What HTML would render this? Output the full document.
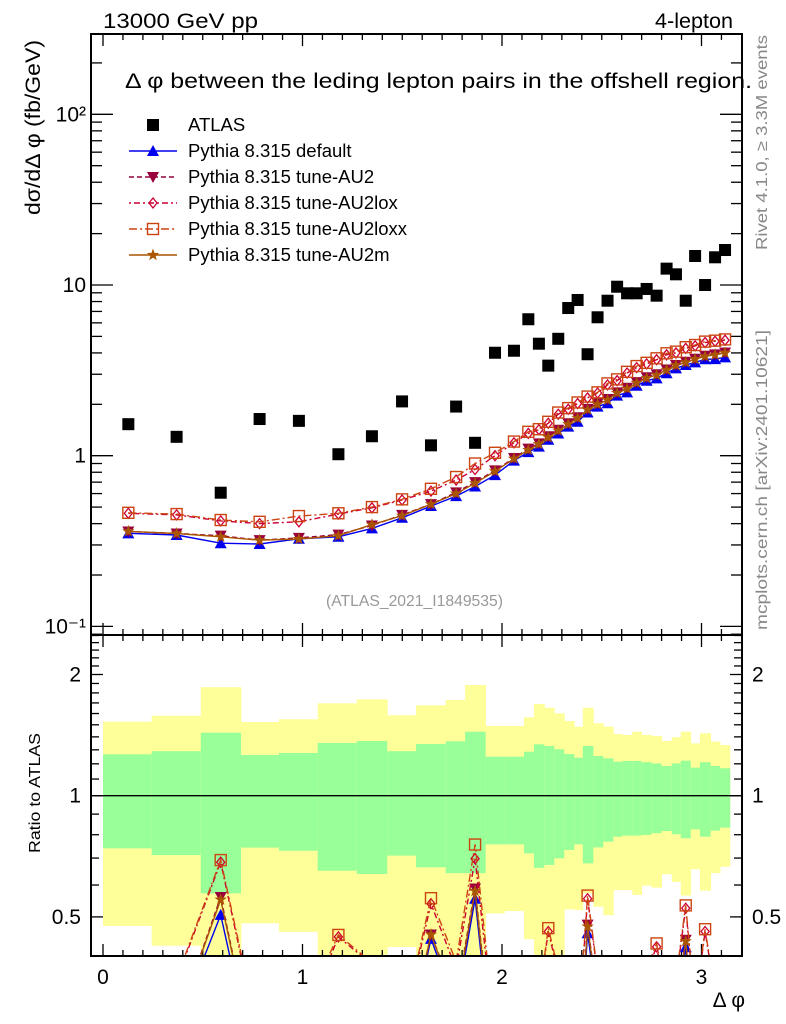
<!DOCTYPE html>
<html><head><meta charset="utf-8"><style>
html,body{margin:0;padding:0;background:#fff;overflow:hidden;width:786px;height:1024px;}
svg{display:block;font-family:"Liberation Sans",sans-serif;overflow:hidden;position:absolute;left:0;top:0;}
</style></head><body>
<svg id="chart" width="786" height="1024" viewBox="0 0 786 1024" xmlns="http://www.w3.org/2000/svg">
<defs>
<clipPath id="clipMain"><rect x="91" y="34" width="651" height="601"/></clipPath>
<clipPath id="clipRatio"><rect x="91" y="635" width="651" height="321"/></clipPath>
</defs>
<g id="bands" clip-path="url(#clipRatio)"></g>
<g id="ticks"></g>
<g id="series"></g>
<rect x="91" y="34" width="651" height="601" fill="none" stroke="#000" stroke-width="2"/>
<rect x="91" y="635" width="651" height="321" fill="none" stroke="#000" stroke-width="2"/>
<text x="103" y="28" font-size="21" textLength="155" lengthAdjust="spacingAndGlyphs">13000 GeV pp</text>
<text x="655" y="28" font-size="21" textLength="78" lengthAdjust="spacingAndGlyphs">4-lepton</text>
<text x="125" y="88" font-size="21" textLength="627" lengthAdjust="spacingAndGlyphs">Δ φ between the leding lepton pairs in the offshell region.</text>
<text transform="translate(40,215) rotate(-90)" font-size="21" textLength="175" lengthAdjust="spacingAndGlyphs">dσ/dΔ φ (fb/GeV)</text>
<text transform="translate(40,853) rotate(-90)" font-size="16" textLength="120" lengthAdjust="spacingAndGlyphs">Ratio to ATLAS</text>
<text x="745" y="1007" font-size="21" text-anchor="end">Δ φ</text>
<text transform="translate(767,250) rotate(-90)" font-size="16" fill="#888" textLength="215" lengthAdjust="spacingAndGlyphs">Rivet 4.1.0, ≥ 3.3M events</text>
<text transform="translate(767,630) rotate(-90)" font-size="16" fill="#888" textLength="300" lengthAdjust="spacingAndGlyphs">mcplots.cern.ch [arXiv:2401.10621]</text>
<text x="326" y="606" font-size="16" fill="#999" textLength="177" lengthAdjust="spacingAndGlyphs">(ATLAS_2021_I1849535)</text>
<g id="legend"></g>
</svg>
<script>
const edges=[0,0.244,0.490,0.692,0.882,1.076,1.272,1.425,1.569,1.718,1.815,1.918,2.012,2.110,2.160,2.212,2.262,2.312,2.362,2.405,2.458,2.508,2.558,2.603,2.653,2.700,2.750,2.800,2.851,2.896,2.946,2.992,3.046,3.093,3.142];
const centers=[0.127,0.369,0.59,0.785,0.982,1.18,1.348,1.499,1.644,1.77,1.865,1.965,2.06,2.132,2.185,2.232,2.282,2.332,2.379,2.429,2.479,2.529,2.577,2.627,2.675,2.725,2.775,2.825,2.872,2.921,2.968,3.018,3.068,3.118];
const atlas=[1.53,1.29,0.607,1.64,1.60,1.02,1.30,2.08,1.15,1.94,1.19,4.01,4.12,6.30,4.53,3.37,4.84,7.33,8.17,3.93,6.47,8.09,9.77,8.94,8.94,9.48,8.66,12.47,11.55,8.09,14.79,10.0,14.53,16.03];
const pDefault=[0.351,0.343,0.307,0.304,0.326,0.335,0.375,0.433,0.507,0.58,0.66,0.77,0.935,1.05,1.13,1.24,1.35,1.48,1.58,1.79,1.94,2.03,2.25,2.35,2.57,2.75,2.84,3.04,3.25,3.40,3.52,3.67,3.68,3.77];
const pAU2=[0.36,0.35,0.34,0.32,0.33,0.345,0.39,0.45,0.52,0.61,0.70,0.82,0.97,1.10,1.18,1.30,1.42,1.55,1.68,1.88,2.03,2.15,2.35,2.50,2.70,2.88,3.00,3.20,3.40,3.55,3.70,3.85,3.92,4.02];
const pAU2lox=[0.46,0.45,0.415,0.40,0.41,0.455,0.495,0.55,0.62,0.72,0.83,1.0,1.19,1.35,1.42,1.55,1.75,1.87,2.02,2.18,2.33,2.6,2.75,3.05,3.28,3.45,3.65,3.9,4.0,4.25,4.4,4.6,4.68,4.75];
const pAU2loxx=[0.463,0.455,0.42,0.41,0.443,0.46,0.50,0.555,0.64,0.75,0.90,1.04,1.21,1.38,1.43,1.58,1.79,1.90,2.05,2.22,2.35,2.65,2.80,3.10,3.35,3.50,3.72,3.98,4.07,4.32,4.45,4.66,4.72,4.80];
const pAU2m=[0.36,0.35,0.335,0.32,0.325,0.34,0.395,0.445,0.52,0.60,0.69,0.81,0.96,1.08,1.17,1.28,1.40,1.53,1.66,1.86,2.00,2.12,2.33,2.47,2.67,2.85,2.97,3.18,3.38,3.52,3.68,3.82,3.90,4.00];
const yelHi=[1.527,1.58,1.86,1.524,1.548,1.696,1.735,1.584,1.677,1.729,1.883,1.49,1.49,1.566,1.69,1.654,1.602,1.533,1.484,1.654,1.513,1.484,1.423,1.415,1.442,1.415,1.407,1.367,1.397,1.442,1.349,1.429,1.363,1.336];
const grnHi=[1.267,1.29,1.434,1.262,1.277,1.352,1.367,1.29,1.344,1.365,1.442,1.25,1.25,1.286,1.342,1.329,1.304,1.269,1.243,1.329,1.255,1.238,1.215,1.22,1.22,1.211,1.203,1.185,1.203,1.222,1.174,1.211,1.185,1.17];
const grnLo=[0.74,0.712,0.572,0.743,0.73,0.651,0.639,0.71,0.664,0.642,0.642,0.757,0.757,0.719,0.662,0.673,0.699,0.733,0.757,0.679,0.744,0.769,0.791,0.796,0.796,0.799,0.807,0.817,0.802,0.784,0.825,0.791,0.819,0.833];
const yelLo=[0.475,0.424,0.35,0.482,0.459,0.35,0.35,0.421,0.35,0.35,0.35,0.51,0.517,0.44,0.35,0.35,0.35,0.522,0.52,0.572,0.53,0.505,0.583,0.583,0.567,0.598,0.591,0.638,0.611,0.565,0.657,0.581,0.642,0.666];
const xTicks=[0,1,2,3];
const yMainTicks=[0.1,1,10,100];
const yMainLabels=["10⁻¹","1","10","10²"];
const yRatioTicks=[0.5,1,2];
const yRatioLabels=["0.5","1","2"];

const NS="http://www.w3.org/2000/svg";
const X=v=>103+v*199.5;
const Ym=v=>455.7-Math.log10(v)*170.7;
const Yr=v=>795.7-Math.log2(v)*121.2;
function mk(tag,attrs,parent){const e=document.createElementNS(NS,tag);for(const k in attrs)e.setAttribute(k,attrs[k]);parent.appendChild(e);return e;}

const bands=document.getElementById('bands');
edges.slice(0,-1).forEach((e,i)=>{
  const x0=X(e),x1=X(edges[i+1]);
  const y=mk('rect',{x:x0,y:Yr(yelHi[i]),width:x1-x0+0.4,height:Yr(yelLo[i])-Yr(yelHi[i]),fill:'#ffff99'},bands);
  
  
  const g=mk('rect',{x:x0,y:Yr(grnHi[i]),width:x1-x0+0.4,height:Yr(grnLo[i])-Yr(grnHi[i]),fill:'#99ff99'},bands);
  
  
});
const one=mk('line',{x1:91,x2:742,y1:Yr(1),y2:Yr(1),stroke:'#000','stroke-width':1.3},bands);



const tg=document.getElementById('ticks');
function tick(x1,y1,x2,y2){mk('line',{x1,y1,x2,y2,stroke:'#000','stroke-width':1.3},tg);}
for(let k=0;k<=31;k++){const v=k/10;const x=X(v);const maj=(k%10===0);const L=maj?12:6;
  tick(x,34,x,34+L);tick(x,635,x,635-L);tick(x,635,x,635+L);tick(x,956,x,956-L);}
xTicks.forEach(v=>{const t=mk('text',{x:X(v),y:984,'font-size':21,'text-anchor':'middle'},tg);t.textContent=v;
  
  });
for(let d=-2;d<=2;d++){for(let m=1;m<=9;m++){const v=m*Math.pow(10,d);const y=Ym(v);if(y<34||y>635)continue;const L=m===1?22:11;
  tick(91,y,91+L,y);tick(742,y,742-L,y);}}
yMainTicks.forEach((v,i)=>{const t=mk('text',{x:86,y:Ym(v)+7,'font-size':21,'text-anchor':'end'},tg);t.textContent=yMainLabels[i];
  
  });
const rt=[0.4,0.5,0.6,0.7,0.8,0.9,1,1.1,1.2,1.3,1.4,1.5,1.6,1.7,1.8,1.9,2,2.1,2.2,2.3,2.4,2.5];
rt.forEach(v=>{const y=Yr(v);if(y<635||y>956)return;const maj=(v===0.5||v===1||v===2);const L=maj?12:8;tick(91,y,91+L,y);tick(742,y,742-L,y);});
yRatioTicks.forEach((v,i)=>{
  const a=mk('text',{x:81,y:Yr(v)+7,'font-size':21,'text-anchor':'end'},tg);a.textContent=yRatioLabels[i];
  
  
  const b=mk('text',{x:752,y:Yr(v)+7,'font-size':21},tg);b.textContent=yRatioLabels[i];
  
  });

function marker(type,x,y,col,parent){
  if(type==='sq') return mk('rect',{x:x-6,y:y-6,width:12,height:12,fill:'#000'},parent);
  if(type==='tu') return mk('polygon',{points:`${x},${y-6} ${x-6},${y+5} ${x+6},${y+5}`,fill:col},parent);
  if(type==='td') return mk('polygon',{points:`${x},${y+6} ${x-6},${y-5} ${x+6},${y-5}`,fill:col},parent);
  if(type==='di') return mk('polygon',{points:`${x},${y-5} ${x+4},${y} ${x},${y+5} ${x-4},${y}`,fill:'none',stroke:col,'stroke-width':1.3},parent);
  if(type==='os') return mk('rect',{x:x-5.5,y:y-5.5,width:11,height:11,fill:'none',stroke:col,'stroke-width':1.4},parent);
  if(type==='st'){let p=[];for(let k=0;k<10;k++){const r=k%2?2.6:6.5;const a=-Math.PI/2+k*Math.PI/5;p.push((x+r*Math.cos(a)).toFixed(1)+','+(y+r*Math.sin(a)).toFixed(1));}
    return mk('polygon',{points:p.join(' '),fill:col},parent);}
}
const sg=document.getElementById('series');
const mainG=mk('g',{'clip-path':'url(#clipMain)'},sg);
const ratG=mk('g',{'clip-path':'url(#clipRatio)'},sg);
const mc=[
 {name:'default',data:pDefault,col:'#0000ee',dash:'',m:'tu',label:'Pythia 8.315 default'},
 {name:'au2',data:pAU2,col:'#99003d',dash:'5,3',m:'td',label:'Pythia 8.315 tune-AU2'},
 {name:'au2lox',data:pAU2lox,col:'#cc0033',dash:'2,3,6,3',m:'di',label:'Pythia 8.315 tune-AU2lox'},
 {name:'au2loxx',data:pAU2loxx,col:'#cc4411',dash:'8,3,2,3',m:'os',label:'Pythia 8.315 tune-AU2loxx'},
 {name:'au2m',data:pAU2m,col:'#aa5500',dash:'',m:'st',label:'Pythia 8.315 tune-AU2m'}];
mc.forEach(s=>{
  const pts=s.data.map((v,i)=>X(centers[i]).toFixed(1)+','+Ym(v).toFixed(1)).join(' ');
  const l=mk('polyline',{points:pts,fill:'none',stroke:s.col,'stroke-width':1.4,'stroke-dasharray':s.dash},mainG);
  
  
  const rp=s.data.map((v,i)=>X(centers[i]).toFixed(1)+','+Yr(v/atlas[i]).toFixed(1)).join(' ');
  const rl=mk('polyline',{points:rp,fill:'none',stroke:s.col,'stroke-width':1.4,'stroke-dasharray':s.dash},ratG);
  
  
  s.data.forEach((v,i)=>{
    const m=marker(s.m,X(centers[i]),Ym(v),s.col,mainG);
    
    
    const mr=marker(s.m,X(centers[i]),Yr(v/atlas[i]),s.col,ratG);
    
    
  });
});
atlas.forEach((v,i)=>{const m=marker('sq',X(centers[i]),Ym(v),'#000',mainG);
  
  });

const lg=document.getElementById('legend');
const rows=[125,151,177,203,229,255];
const le=marker('sq',153,rows[0],'#000',lg);


const lt=mk('text',{x:188,y:rows[0]+6,'font-size':18.5},lg);lt.textContent='ATLAS';


mc.forEach((s,i)=>{const y=rows[i+1];
  const l=mk('line',{x1:129,x2:177,y1:y,y2:y,stroke:s.col,'stroke-width':1.4,'stroke-dasharray':s.dash},lg);
  
  
  const m=marker(s.m,153,y,s.col,lg);
  
  
  const t=mk('text',{x:188,y:y+6,'font-size':18.5},lg);t.textContent=s.label;
  
  
});
</script>
</body></html>
